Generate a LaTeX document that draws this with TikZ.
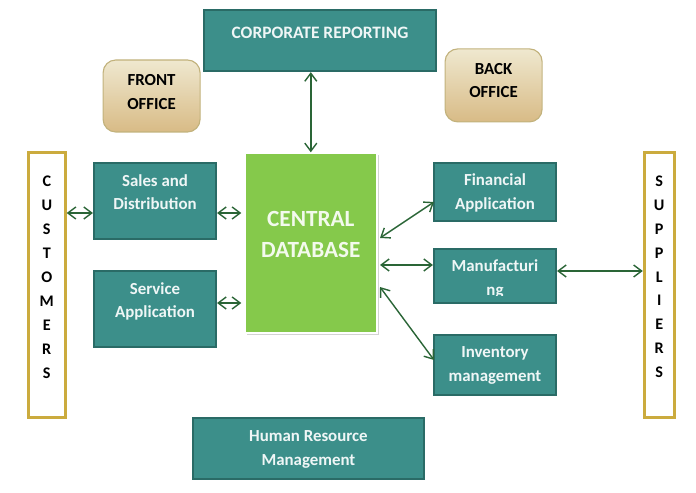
\documentclass[tikz,border=0pt]{standalone}
\usepackage{fontspec}
\setmainfont{Carlito}
\usetikzlibrary{arrows.meta,shadows}
\definecolor{boxteal}{HTML}{3C8F8A}
\definecolor{boxedge}{HTML}{2A6B66}
\definecolor{dbgreen}{HTML}{85C94B}
\definecolor{sidegold}{HTML}{CBAB3E}
\definecolor{linkgreen}{HTML}{2A6536}
\definecolor{officetop}{HTML}{EFE8CF}
\definecolor{officebottom}{HTML}{D8BB86}
\definecolor{officeedge}{HTML}{C2B27C}
\newcommand{\lift}[2]{\raisebox{#1}[0pt][0pt]{\begin{tabular}{@{}c@{}}#2\end{tabular}}}
\tikzset{
	tealbox/.style={draw=boxedge, line width=1.5pt, fill=boxteal, text=white!92!boxteal, font=\bfseries\fontsize{12}{17}\selectfont, inner sep=0pt},
	officebox/.style={draw=officeedge, line width=0.8pt, rounded corners=9pt, top color=officetop, bottom color=officebottom, font=\bfseries\fontsize{12}{17}\selectfont, text=black, minimum width=2.425cm, inner sep=0pt},
	sidebox/.style={draw=sidegold, line width=2pt, fill=white, font=\bfseries\fontsize{11.5}{17}\selectfont, inner sep=0pt, minimum height=6.625cm},
	link/.style={{Straight Barb[length=2mm,width=3mm]}-{Straight Barb[length=2mm,width=3mm]}, linkgreen, line width=1pt},
}
\begin{document}
\begin{tikzpicture}
	%%%%% BOXES %%%%%
	\useasboundingbox (0, 0) rectangle (17.4, 12.325);
	
	\node[tealbox, minimum width=5.8cm, minimum height=1.525cm] (corporate) at (8, 11.31) {\lift{2pt}{\fontsize{12.4}{17}\selectfont CORPORATE REPORTING}};
	\node[officebox, minimum height=1.8cm] (front) at (3.79, 9.925) {\lift{-0.5pt}{FRONT\\OFFICE}};
	\node[officebox, minimum height=1.825cm] (back) at (12.34, 10.19) {\lift{0pt}{BACK\\OFFICE}};
	
	\node[sidebox, minimum width=0.925cm] (customers) at (1.17, 5.19) {\lift{2.5pt}{C\\U\\S\\T\\O\\M\\E\\R\\S}};
	\node[sidebox, minimum width=0.75cm] (suppliers) at (16.48, 5.2) {\lift{2.5pt}{S\\U\\P\\P\\L\\I\\E\\R\\S}};
	
	\node[tealbox, minimum width=3.05cm, minimum height=1.9cm] (sales) at (3.875, 7.3) {\lift{2.5pt}{Sales and\\Distribution}};
	\node[tealbox, minimum width=3.05cm, minimum height=1.9cm] (service) at (3.875, 4.6) {\lift{2.5pt}{Service\\Application}};
	
	\node[draw=white, line width=1pt, fill=dbgreen, drop shadow={opacity=0.35, shadow xshift=1.5pt, shadow yshift=-1.5pt}, text=white!90!dbgreen, font=\bfseries\fontsize{16.5}{22}\selectfont, minimum width=3.3cm, minimum height=4.5cm, inner sep=0pt] (central) at (7.77, 6.25) {\lift{0.5pt}{CENTRAL\\DATABASE}};
	
	\node[tealbox, minimum width=3.05cm, minimum height=1.45cm] (financial) at (12.375, 7.525) {\lift{-3.5pt}{Financial\\Application}};
	\node[tealbox, minimum width=3.05cm, minimum height=1.35cm] (manufacturing) at (12.375, 5.425) {\lift{-5pt}{Manufacturi\\ng}};
	\fill[boxteal] (12, 4.8) rectangle (12.75, 4.925);
	\node[tealbox, minimum width=3.05cm, minimum height=1.5cm] (inventory) at (12.375, 3.2) {\lift{-3pt}{Inventory\\management}};
	\node[tealbox, minimum width=5.775cm, minimum height=1.525cm] (hr) at (7.71, 1.11) {\lift{-3pt}{Human Resource\\Management}};
	
	%%%%% LINKS %%%%%
	\coordinate (salesport) at (0, 7);
	\coordinate (serviceport) at (0, 4.75);
	\coordinate (dbfinancial) at (9.5, 6.375);
	\coordinate (dbmanufacturing) at (9.5, 5.7);
	\coordinate (dbinventory) at (9.5, 5.15);
	\coordinate (financialport) at (10.85, 7.275);
	\coordinate (inventoryport) at (10.85, 3.325);
	\coordinate (supplierport) at (0, 5.55);
	
	\draw[link] (customers.east |- salesport) -- (sales.west |- salesport);
	\draw[link] (sales.east |- salesport) -- ([xshift=-2pt]central.west |- salesport);
	\draw[link] (service.east |- serviceport) -- ([xshift=-2pt]central.west |- serviceport);
	\draw[link] (corporate.south -| central) -- (central.north);
	\draw[link] (dbfinancial) -- (financialport);
	\draw[link] (dbmanufacturing) -- (manufacturing.west |- dbmanufacturing);
	\draw[link] (dbinventory) -- (inventoryport);
	\draw[link] (manufacturing.east |- supplierport) -- (suppliers.west |- supplierport);
\end{tikzpicture}
\end{document}
